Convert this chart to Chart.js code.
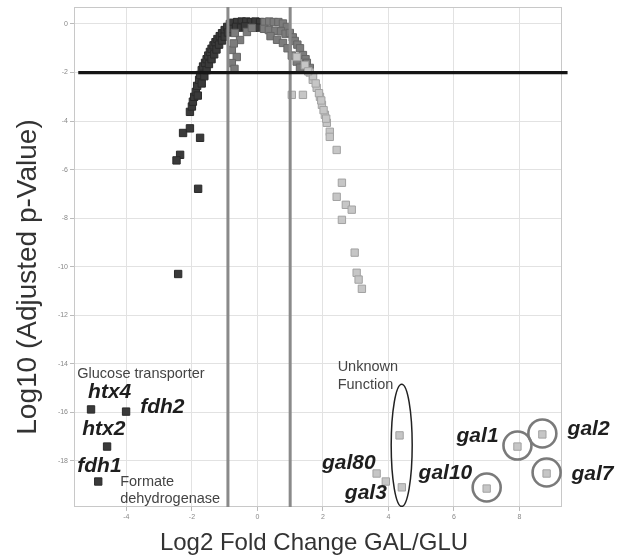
<!DOCTYPE html>
<html>
<head>
<meta charset="utf-8">
<script src="https://cdn.jsdelivr.net/npm/chart.js@4.4.1/dist/chart.umd.min.js"></script>
<style>
  html, body { margin: 0; padding: 0; background: #fff; }
  #wrap { width: 619px; height: 558px; }
</style>
</head>
<body>
<div id="wrap"><canvas id="volcano"></canvas></div>
<script>
// volcano plot: log2 fold change GAL/GLU (x) vs log10 adjusted p-value (y)

// strongly down (dark)
const downGenes = [
  [-2.42, -10.3], [-1.81, -6.79], [-2.36, -5.39], [-2.47, -5.62], [-2.27, -4.49],
  [-2.06, -4.3], [-1.75, -4.69], [-2.06, -3.62], [-2.0, -3.4], [-1.97, -3.2],
  [-1.93, -3.0], [-1.88, -2.8], [-1.84, -2.55], [-1.78, -2.3], [-1.75, -2.1],
  [-1.7, -1.9], [-1.66, -1.75], [-1.6, -1.6], [-1.55, -1.45], [-1.5, -1.3],
  [-1.45, -1.15], [-1.4, -1.02], [-1.34, -0.88], [-1.28, -0.75], [-1.22, -0.62],
  [-1.15, -0.5], [-1.08, -0.38], [-1.0, -0.25], [-0.92, -0.12], [-0.84, 0.0],
  [-0.75, 0.05],
  [-1.82, -2.95], [-1.7, -2.45], [-1.62, -2.15], [-1.55, -1.9], [-1.48, -1.65],
  [-1.4, -1.45], [-1.32, -1.25], [-1.25, -1.05], [-1.17, -0.85], [-1.08, -0.68],
  [-1.0, -0.52], [-0.9, -0.35], [-0.8, -0.2],
  [-0.62, 0.08], [-0.48, 0.1], [-0.34, 0.1], [-0.2, 0.08], [-0.06, 0.1], [0.08, 0.08],
  [-0.65, -0.12], [-0.5, -0.15], [-0.38, -0.1], [-0.12, -0.15], [0.05, -0.15]
];

// around no change (mid grey)
const midGenes = [
  [0.22, 0.08], [0.36, 0.1], [0.5, 0.08], [0.64, 0.08], [0.78, 0.02], [0.9, -0.12],
  [0.2, -0.2], [0.35, -0.25], [0.55, -0.28], [0.72, -0.3], [0.86, -0.4],
  [0.99, -0.37], [1.08, -0.55], [1.14, -0.7], [1.22, -0.85], [1.3, -1.0],
  [1.39, -1.28], [1.47, -1.45], [1.51, -1.6], [1.6, -1.81],
  [-0.69, -0.37], [-0.78, -1.07], [-0.63, -1.36], [-0.78, -1.61], [-0.7, -1.85],
  [-0.53, -0.66], [-0.32, -0.33], [-0.17, -0.16], [-0.72, -0.8],
  [0.4, -0.5], [0.6, -0.65], [0.78, -0.78], [0.92, -1.0], [1.05, -1.3],
  [1.2, -1.55], [1.3, -1.8]
];

// up (light grey)
const upGenes = [
  [1.2, -1.36], [1.45, -1.7], [1.6, -2.0], [1.69, -2.3], [1.81, -2.63],
  [1.91, -3.0], [1.97, -3.33], [2.06, -3.74], [2.12, -4.07], [2.21, -4.44],
  [2.21, -4.65], [2.42, -5.19], [1.05, -2.92], [1.39, -2.92],
  [1.7, -2.15], [1.78, -2.45], [1.88, -2.85], [1.95, -3.15], [2.02, -3.55],
  [2.1, -3.9], [1.55, -1.95],
  [2.58, -6.54], [2.42, -7.12], [2.7, -7.45], [2.88, -7.65], [2.58, -8.07],
  [2.97, -9.42], [3.03, -10.25], [3.09, -10.53], [3.19, -10.91]
];

// htx4, fdh2, htx2, fdh1
const leftHits = [[-5.08, -15.88], [-4.01, -15.97], [-4.59, -17.41], [-4.86, -18.85]];
// unknown, unknown, gal80, gal3, gal1, gal2, gal10, gal7
const galHits = [
  [4.34, -16.95], [4.41, -19.09], [3.64, -18.52], [3.92, -18.85],
  [7.94, -17.41], [8.7, -16.91], [7.0, -19.14], [8.83, -18.52]
];
const circledIdx = [4, 5, 6, 7];
const unknownIdx = [0, 1];

const pCutoff = -2;
const foldCutoffs = [-0.9, 1.0];
const xTicks = [-4, -2, 0, 2, 4, 6, 8];
const yTicks = [0, -2, -4, -6, -8, -10, -12, -14, -16, -18];

const notes = [
  { text: 'Glucose transporter', x: -5.5, y: -14.44, gene: false },
  { text: 'htx4', x: -5.17, y: -15.19, gene: true },
  { text: 'fdh2', x: -3.58, y: -15.8, gene: true },
  { text: 'htx2', x: -5.35, y: -16.71, gene: true },
  { text: 'fdh1', x: -5.5, y: -18.23, gene: true },
  { text: 'Formate', x: -4.19, y: -18.85, gene: false },
  { text: 'dehydrogenase', x: -4.19, y: -19.59, gene: false },
  { text: 'Unknown', x: 2.45, y: -14.12, gene: false },
  { text: 'Function', x: 2.45, y: -14.86, gene: false },
  { text: 'gal80', x: 1.97, y: -18.11, gene: true },
  { text: 'gal3', x: 2.67, y: -19.34, gene: true },
  { text: 'gal1', x: 6.08, y: -17.0, gene: true },
  { text: 'gal10', x: 4.92, y: -18.52, gene: true },
  { text: 'gal2', x: 9.47, y: -16.71, gene: true },
  { text: 'gal7', x: 9.59, y: -18.56, gene: true }
];

const xMin = -5.6, xMax = 9.3, yMin = -19.9, yMax = 0.7;

const pts = arr => arr.map(p => ({ x: p[0], y: p[1] }));

function cutoffLine(data, color, width) {
  return {
    data: data, showLine: true, borderColor: color, borderWidth: width,
    pointRadius: 0, clip: false, order: 0
  };
}

function markers(data, fill, edge) {
  return {
    data: pts(data), pointStyle: 'rect', pointRadius: 5.2,
    backgroundColor: fill, borderColor: edge, borderWidth: 1, order: 1
  };
}

const decor = {
  id: 'decor',
  beforeDatasetsDraw(chart) {
    const { ctx, chartArea: a } = chart;
    ctx.save();
    ctx.strokeStyle = '#c8c8c8';
    ctx.lineWidth = 1;
    ctx.strokeRect(a.left + 0.5, a.top + 0.5, a.right - a.left - 1, a.bottom - a.top - 1);
    ctx.restore();
  },
  afterDraw(chart) {
    const { ctx } = chart;
    const xs = chart.scales.x, ys = chart.scales.y;
    ctx.save();

    // axis titles
    ctx.fillStyle = '#333';
    ctx.font = '24px "Liberation Sans", Arial, sans-serif';
    ctx.textAlign = 'center';
    ctx.textBaseline = 'alphabetic';
    ctx.fillText('Log2 Fold Change GAL/GLU', 314, 550);
    ctx.save();
    ctx.translate(36, 277);
    ctx.rotate(-Math.PI / 2);
    ctx.font = '28px "Liberation Sans", Arial, sans-serif';
    ctx.fillText('Log10 (Adjusted p-Value)', 0, 0);
    ctx.restore();

    // annotations
    ctx.textAlign = 'left';
    ctx.textBaseline = 'middle';
    notes.forEach(n => {
      ctx.font = n.gene ? 'italic bold 21px "Liberation Sans", Arial, sans-serif'
                        : '14.5px "Liberation Sans", Arial, sans-serif';
      ctx.fillStyle = n.gene ? '#1e1e1e' : '#444';
      ctx.fillText(n.text, xs.getPixelForValue(n.x), ys.getPixelForValue(n.y));
    });

    // circles around the gal genes
    const meta = chart.getDatasetMeta(4);
    ctx.strokeStyle = '#7a7a7a';
    ctx.lineWidth = 2.6;
    circledIdx.forEach(i => {
      const el = meta.data[i];
      ctx.beginPath();
      ctx.arc(el.x, el.y - 1, 14, 0, Math.PI * 2);
      ctx.stroke();
    });

    // ellipse around the unknown-function pair
    const a = meta.data[unknownIdx[0]], b = meta.data[unknownIdx[1]];
    ctx.strokeStyle = '#222';
    ctx.lineWidth = 1.5;
    ctx.beginPath();
    ctx.ellipse((a.x + b.x) / 2 + 1, (a.y + b.y) / 2 - 16, 10.5, 61, 0, 0, Math.PI * 2);
    ctx.stroke();

    ctx.restore();
  }
};

new Chart(document.getElementById('volcano'), {
  type: 'scatter',
  data: {
    datasets: [
      cutoffLine([{ x: -5.47, y: pCutoff }, { x: 9.47, y: pCutoff }], '#151515', 3.2),
      cutoffLine([{ x: foldCutoffs[0], y: yMax }, { x: foldCutoffs[0], y: yMin }], '#8a8a8a', 3),
      cutoffLine([{ x: foldCutoffs[1], y: yMax }, { x: foldCutoffs[1], y: yMin }], '#8a8a8a', 3),
      markers(upGenes, '#c6c6c6', '#a2a2a2'),
      markers(galHits, '#c6c6c6', '#a2a2a2'),
      markers(midGenes, '#7c7c7c', '#666'),
      markers(downGenes, '#3a3a3a', '#2a2a2a'),
      markers(leftHits, '#3a3a3a', '#2a2a2a')
    ]
  },
  options: {
    responsive: true,
    maintainAspectRatio: false,
    animation: false,
    layout: { padding: { top: 7, right: 57, left: 0, bottom: 0 } },
    plugins: {
      legend: { display: false },
      tooltip: { enabled: false }
    },
    scales: {
      x: {
        type: 'linear', min: xMin, max: xMax,
        afterFit: s => { s.height = 51; },
        afterBuildTicks: s => { s.ticks = xTicks.map(v => ({ value: v })); },
        grid: { color: '#e2e2e2', tickColor: '#bbb', tickLength: 4 },
        border: { display: false },
        ticks: { color: '#888', font: { size: 7 }, padding: 2, maxRotation: 0 }
      },
      y: {
        type: 'linear', min: yMin, max: yMax,
        afterFit: s => { s.width = 74; },
        afterBuildTicks: s => { s.ticks = yTicks.map(v => ({ value: v })); },
        grid: { color: '#e2e2e2', tickColor: '#bbb', tickLength: 4 },
        border: { display: false },
        ticks: { color: '#888', font: { size: 7 }, padding: 2 }
      }
    }
  },
  plugins: [decor]
});
</script>
</body>
</html>
